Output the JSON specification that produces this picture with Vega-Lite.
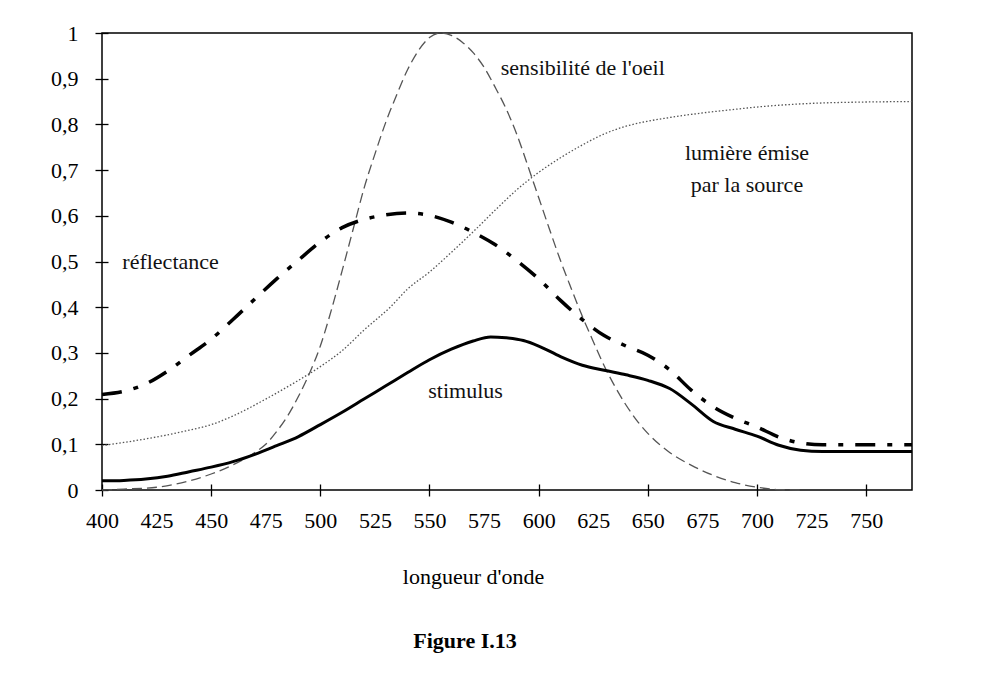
{
  "$schema": "https://vega.github.io/schema/vega-lite/v6.json",
  "autosize": {"type": "none"},
  "width": 810,
  "height": 457,
  "padding": {"left": 102, "top": 33, "right": 70, "bottom": 183},
  "background": "white",
  "config": {
    "font": "Liberation Serif",
    "view": {"stroke": "black", "strokeWidth": 1.5},
    "axis": {"grid": false, "domain": false, "labelFont": "Liberation Serif", "titleFont": "Liberation Serif", "labelColor": "black", "titleColor": "black", "tickColor": "black", "labelFontSize": 22, "titleFontSize": 22, "titleFontWeight": "normal", "tickWidth": 1.3}
  },
  "title": {"text": "Figure I.13", "orient": "bottom", "anchor": "middle", "dx": -42, "offset": 44, "font": "Liberation Serif", "fontSize": 22, "fontWeight": "bold", "color": "black"},
  "datasets": {
    "stimulus": [
      {"w": 400, "v": 0.020}, {"w": 410, "v": 0.021}, {"w": 420, "v": 0.024}, {"w": 430, "v": 0.030},
      {"w": 440, "v": 0.040}, {"w": 450, "v": 0.050}, {"w": 460, "v": 0.062}, {"w": 470, "v": 0.078},
      {"w": 480, "v": 0.097}, {"w": 490, "v": 0.117}, {"w": 500, "v": 0.143}, {"w": 510, "v": 0.170},
      {"w": 520, "v": 0.199}, {"w": 530, "v": 0.228}, {"w": 540, "v": 0.257}, {"w": 550, "v": 0.285},
      {"w": 560, "v": 0.308}, {"w": 570, "v": 0.326}, {"w": 578, "v": 0.335}, {"w": 585, "v": 0.333},
      {"w": 593, "v": 0.327}, {"w": 600, "v": 0.315}, {"w": 610, "v": 0.292}, {"w": 620, "v": 0.273},
      {"w": 630, "v": 0.262}, {"w": 640, "v": 0.252}, {"w": 650, "v": 0.240}, {"w": 660, "v": 0.222},
      {"w": 670, "v": 0.188}, {"w": 680, "v": 0.150}, {"w": 690, "v": 0.133}, {"w": 700, "v": 0.118},
      {"w": 710, "v": 0.098}, {"w": 720, "v": 0.087}, {"w": 730, "v": 0.084}, {"w": 771, "v": 0.084}
    ],
    "reflectance": [
      {"w": 400, "v": 0.209}, {"w": 410, "v": 0.216}, {"w": 420, "v": 0.232}, {"w": 430, "v": 0.260},
      {"w": 440, "v": 0.295}, {"w": 450, "v": 0.330}, {"w": 460, "v": 0.373}, {"w": 470, "v": 0.418},
      {"w": 480, "v": 0.462}, {"w": 490, "v": 0.503}, {"w": 500, "v": 0.543}, {"w": 510, "v": 0.574},
      {"w": 520, "v": 0.592}, {"w": 530, "v": 0.602}, {"w": 540, "v": 0.606}, {"w": 550, "v": 0.601},
      {"w": 560, "v": 0.586}, {"w": 570, "v": 0.564}, {"w": 580, "v": 0.537}, {"w": 590, "v": 0.502},
      {"w": 600, "v": 0.462}, {"w": 610, "v": 0.415}, {"w": 620, "v": 0.373}, {"w": 630, "v": 0.338},
      {"w": 640, "v": 0.315}, {"w": 650, "v": 0.295}, {"w": 660, "v": 0.263}, {"w": 670, "v": 0.218},
      {"w": 680, "v": 0.182}, {"w": 690, "v": 0.157}, {"w": 700, "v": 0.138}, {"w": 710, "v": 0.116},
      {"w": 720, "v": 0.103}, {"w": 730, "v": 0.099}, {"w": 771, "v": 0.099}
    ],
    "sensibilite": [
      {"w": 400, "v": 0.000}, {"w": 410, "v": 0.002}, {"w": 425, "v": 0.006}, {"w": 440, "v": 0.020},
      {"w": 450, "v": 0.035}, {"w": 460, "v": 0.055}, {"w": 470, "v": 0.082}, {"w": 475, "v": 0.100},
      {"w": 480, "v": 0.128}, {"w": 485, "v": 0.162}, {"w": 490, "v": 0.205}, {"w": 495, "v": 0.255},
      {"w": 500, "v": 0.315}, {"w": 505, "v": 0.393}, {"w": 510, "v": 0.480}, {"w": 515, "v": 0.570},
      {"w": 520, "v": 0.660}, {"w": 525, "v": 0.735}, {"w": 530, "v": 0.805}, {"w": 535, "v": 0.865},
      {"w": 540, "v": 0.920}, {"w": 545, "v": 0.962}, {"w": 550, "v": 0.990}, {"w": 555, "v": 1.000},
      {"w": 560, "v": 0.995}, {"w": 565, "v": 0.980}, {"w": 570, "v": 0.957}, {"w": 575, "v": 0.925},
      {"w": 580, "v": 0.882}, {"w": 585, "v": 0.835}, {"w": 590, "v": 0.778}, {"w": 595, "v": 0.710},
      {"w": 600, "v": 0.640}, {"w": 605, "v": 0.570}, {"w": 610, "v": 0.502}, {"w": 615, "v": 0.440},
      {"w": 620, "v": 0.380}, {"w": 625, "v": 0.325}, {"w": 630, "v": 0.272}, {"w": 635, "v": 0.226},
      {"w": 640, "v": 0.186}, {"w": 645, "v": 0.152}, {"w": 650, "v": 0.124}, {"w": 655, "v": 0.101},
      {"w": 660, "v": 0.082}, {"w": 670, "v": 0.054}, {"w": 680, "v": 0.032}, {"w": 690, "v": 0.016},
      {"w": 700, "v": 0.006}, {"w": 710, "v": 0.001}, {"w": 720, "v": 0.000}
    ],
    "lumiere": [
      {"w": 400, "v": 0.097}, {"w": 410, "v": 0.104}, {"w": 425, "v": 0.116}, {"w": 440, "v": 0.131},
      {"w": 450, "v": 0.143}, {"w": 460, "v": 0.162}, {"w": 475, "v": 0.199}, {"w": 490, "v": 0.240},
      {"w": 500, "v": 0.270}, {"w": 510, "v": 0.305}, {"w": 520, "v": 0.350}, {"w": 532, "v": 0.400},
      {"w": 540, "v": 0.440}, {"w": 550, "v": 0.477}, {"w": 560, "v": 0.520}, {"w": 570, "v": 0.565},
      {"w": 580, "v": 0.612}, {"w": 590, "v": 0.657}, {"w": 600, "v": 0.695}, {"w": 610, "v": 0.727},
      {"w": 620, "v": 0.755}, {"w": 630, "v": 0.779}, {"w": 640, "v": 0.796}, {"w": 650, "v": 0.807},
      {"w": 660, "v": 0.815}, {"w": 675, "v": 0.825}, {"w": 690, "v": 0.833}, {"w": 700, "v": 0.838},
      {"w": 725, "v": 0.846}, {"w": 750, "v": 0.849}, {"w": 771, "v": 0.850}
    ],
    "labels": [
      {"w": 620.2, "v": 0.924, "t": "sensibilité de l'oeil"},
      {"w": 695.4, "v": 0.738, "t": "lumière émise"},
      {"w": 695.4, "v": 0.668, "t": "par la source"},
      {"w": 431.4, "v": 0.500, "t": "réflectance"},
      {"w": 566.5, "v": 0.216, "t": "stimulus"}
    ]
  },
  "encoding": {
    "x": {
      "field": "w", "type": "quantitative",
      "scale": {"domain": [400, 771], "nice": false, "zero": false},
      "axis": {
        "values": [400, 425, 450, 475, 500, 525, 550, 575, 600, 625, 650, 675, 700, 725, 750],
        "title": "longueur d'onde",
        "offset": -6, "tickSize": 12, "labelPadding": 14, "labelFlush": false,
        "tickOpacity": {"condition": {"test": "datum.value % 50 === 0", "value": 1}, "value": 0},
        "titleX": 371, "titleY": 92, "titleAlign": "center", "titleBaseline": "middle", "titleAnchor": null
      }
    },
    "y": {
      "field": "v", "type": "quantitative",
      "scale": {"domain": [0, 1], "nice": false},
      "axis": {
        "values": [0, 0.1, 0.2, 0.3, 0.4, 0.5, 0.6, 0.7, 0.8, 0.9, 1],
        "title": null, "offset": -6, "tickSize": 13, "labelPadding": 17,
        "labelExpr": "replace(format(datum.value, '.1~f'), '.', ',')"
      }
    }
  },
  "layer": [
    {"data": {"name": "lumiere"}, "mark": {"type": "line", "interpolate": "monotone", "color": "#555", "strokeWidth": 1.3, "strokeDash": [1.5, 2]}},
    {"data": {"name": "sensibilite"}, "mark": {"type": "line", "interpolate": "monotone", "color": "#555", "strokeWidth": 1.3, "strokeDash": [10, 5]}},
    {"data": {"name": "reflectance"}, "mark": {"type": "line", "interpolate": "monotone", "color": "black", "strokeWidth": 3.5, "strokeDash": [20, 12, 5, 12]}},
    {"data": {"name": "stimulus"}, "mark": {"type": "line", "interpolate": "monotone", "color": "black", "strokeWidth": 3}},
    {"data": {"name": "labels"}, "mark": {"type": "text", "align": "center", "baseline": "middle", "font": "Liberation Serif", "fontSize": 22, "color": "#111"}, "encoding": {"text": {"field": "t"}}}
  ]
}
